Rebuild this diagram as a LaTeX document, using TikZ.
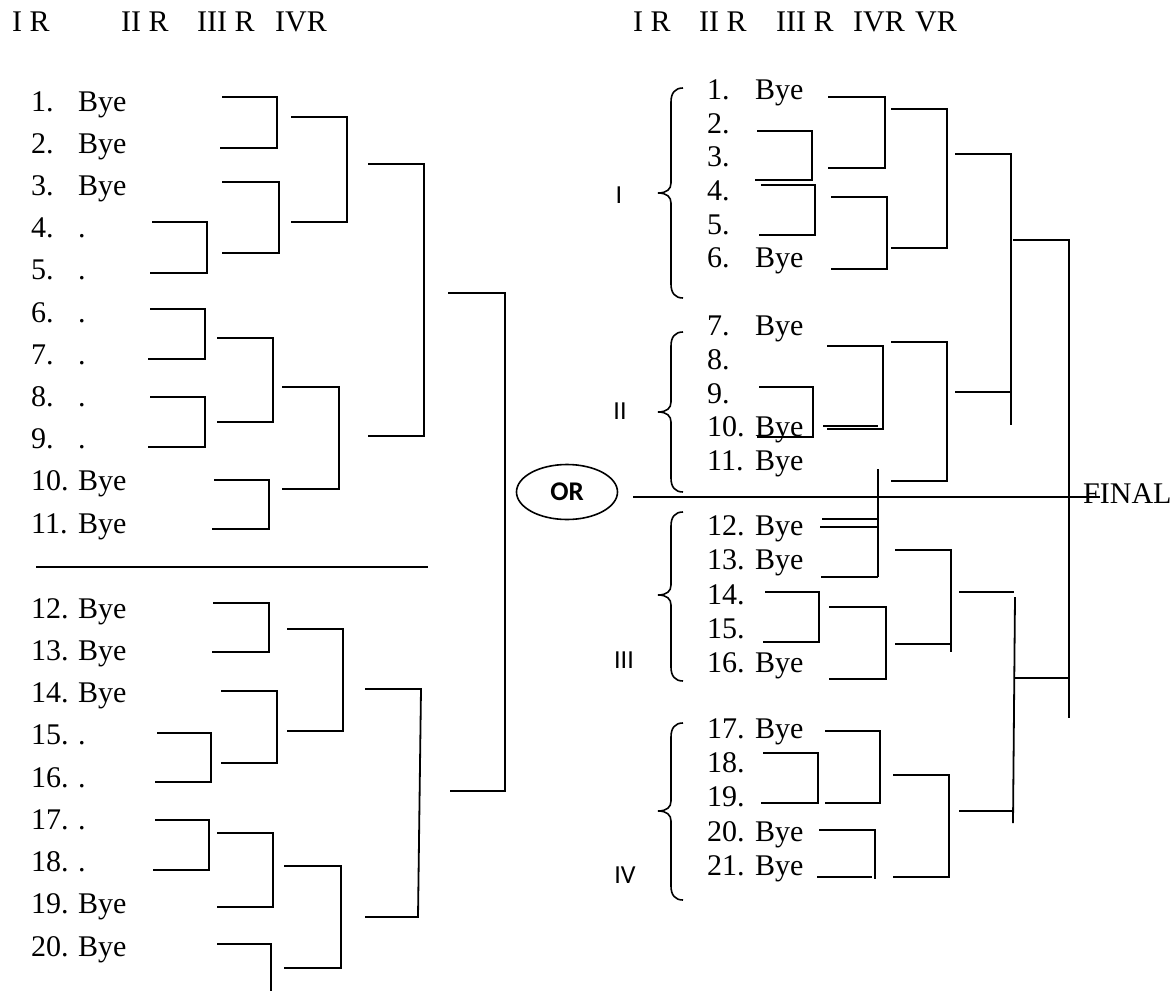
\documentclass[tikz,border=0pt]{standalone}
\usepackage{fontspec}
\setmainfont{Liberation Serif}
\newfontfamily\calib{Carlito}
\usetikzlibrary{shapes.geometric}
\newcommand{\brk}[5]{\draw[ln] (#1,#2) -- (#3,#2) -- (#3,#4) -- (#5,#4);}
\newcommand{\grpbrace}[3]{\draw[bl] (683,#1) .. controls (675,#1) and (671,#1+5) .. (671,#1+14) -- (671,#2-10) .. controls (671,#2-4) and (667,#2) .. (658,#2) .. controls (667,#2) and (671,#2+4) .. (671,#2+10) -- (671,#3-14) .. controls (671,#3-5) and (675,#3) .. (683,#3);}
\begin{document}
\begin{tikzpicture}[x=1pt,y=-1pt,
  ln/.style={line width=1.8pt},
  bl/.style={line width=1.6pt},
  txt/.style={inner sep=0pt, anchor=base west, font=\fontsize{30}{32}\selectfont},
  lab/.style={inner sep=0pt, anchor=center, font=\calib\fontsize{26}{28}\selectfont}]
\useasboundingbox (0,0) rectangle (1173,991);
% headers
\node[txt] (hl1) at (12,31) {I R};
\node[txt] (hl2) at (121,31) {II R};
\node[txt] (hl3) at (197,31) {III R};
\node[txt] (hl4) at (275,31) {IVR};
\node[txt] (hr1) at (633,31) {I R};
\node[txt] (hr2) at (699,31) {II R};
\node[txt] (hr3) at (776,31) {III R};
\node[txt] (hr4) at (853,31) {IVR};
\node[txt] (hr5) at (915,31) {VR};
% left entries
\foreach \i/\y in {1/111,2/153.2,3/195.4,4/237.6,5/279.8,6/322,7/364.2,8/406.4,9/448.6,10/490.8,11/533,12/618,13/660.25,14/702.5,15/744.75,16/787,17/829.25,18/871.5,19/913.75,20/956}
  \node[txt] (ln\i) at (31,\y) {\i.};
\foreach \i/\y/\t in {1/111/Bye,2/153.2/Bye,3/195.4/Bye,4/237.6/.,5/279.8/.,6/322/.,7/364.2/.,8/406.4/.,9/448.6/.,10/490.8/Bye,11/533/Bye,12/618/Bye,13/660.25/Bye,14/702.5/Bye,15/744.75/.,16/787/.,17/829.25/.,18/871.5/.,19/913.75/Bye,20/956/Bye}
  \node[txt] (lt\i) at (78,\y) {\t};
% right entries
\foreach \i/\y in {1/99,2/133,3/166,4/200,5/234,6/267,7/335,8/369,9/403,10/436,11/470,12/535,13/569,14/604,15/638,16/672,17/738,18/772,19/806,20/841,21/875}
  \node[txt] (rn\i) at (707,\y) {\i.};
\foreach \i/\y in {1/99,6/267,7/335,10/436,11/470,12/535,13/569,16/672,17/738,20/841,21/875}
  \node[txt] (rt\i) at (755,\y) {Bye};
% left brackets
\brk{222}{97}{277}{148}{220}
\brk{291}{117}{347}{222}{291}
\brk{222}{182}{279}{253}{222}
\brk{152}{222}{207}{273}{150}
\brk{368}{164}{424}{436}{368}
\brk{448}{293}{505}{791}{450}
\brk{150}{309}{205}{359}{148}
\brk{217}{338}{273}{422}{217}
\brk{150}{397}{205}{447}{148}
\brk{282}{387}{339}{489}{282}
\brk{214}{480}{269}{529}{212}
\draw[ln] (36,567) -- (428,567);
\brk{213}{603}{269}{652}{212}
\brk{287}{629}{343}{731}{287}
\brk{221}{691}{277}{763}{221}
\brk{157}{733}{211}{782}{155}
\draw[ln] (365,689) -- (421,689) -- (418,917) -- (365,917);
\brk{155}{820}{209}{870}{153}
\brk{217}{833}{273}{907}{217}
\brk{284}{866}{341}{968}{284}
\draw[ln] (217,944) -- (271,944) -- (271,991);
% right brackets
\brk{828}{97}{885}{168}{828}
\brk{757}{131}{812}{180}{755}
\brk{761}{185}{815}{235}{759}
\brk{831}{197}{887}{269}{831}
\brk{891}{109}{947}{248}{891}
\draw[ln] (955,154) -- (1011,154) -- (1011,425);
\draw[ln] (955,392) -- (1011,392);
\draw[ln] (1013,240) -- (1069,240) -- (1069,718);
\draw[ln] (1015,678) -- (1069,678);
\brk{827}{346}{883}{429}{827}
\draw[ln] (823,426) -- (878,426);
\brk{759}{387}{813}{437}{757}
\brk{891}{342}{947}{481}{891}
\draw[ln] (878,469) -- (878,577);
\draw[ln] (822,519) -- (878,519);
\draw[ln] (820,527) -- (878,527);
\draw[ln] (821,577) -- (878,577);
\brk{765}{592}{819}{642}{763}
\brk{829}{607}{886}{679}{829}
\draw[ln] (895,550) -- (951,550) -- (951,652);
\draw[ln] (895,644) -- (951,644);
\draw[ln] (959,592) -- (1014,592);
\draw[ln] (1015,597) -- (1013,823);
\draw[ln] (959,811) -- (1013,811);
\brk{825}{731}{880}{803}{825}
\brk{763}{753}{818}{803}{761}
\draw[ln] (819,830) -- (875,830) -- (875,879);
\draw[ln] (817,877) -- (872,877);
\brk{893}{775}{949}{877}{893}
% braces and group labels
\grpbrace{88}{193}{298}
\grpbrace{332}{412}{492}
\grpbrace{512}{595}{681}
\grpbrace{723}{811}{900}
\node[lab] (gI) at (619,195) {I};
\node[lab] (gII) at (620,411) {II};
\node[lab] (gIII) at (624,660) {III};
\node[lab] (gIV) at (625,875) {IV};
% OR and final
\node[draw, ellipse, line width=1.6pt, minimum width=101pt, minimum height=55pt, inner sep=0pt, font=\calib\bfseries\fontsize{27}{29}\selectfont] (or) at (567,492) {OR};
\node[txt] (final) at (1083,503) {FINAL};
\coordinate (orline) at (633,497);
\coordinate (finend) at (1100,497);
\draw[ln] (orline) -- (finend);
\end{tikzpicture}
\end{document}
